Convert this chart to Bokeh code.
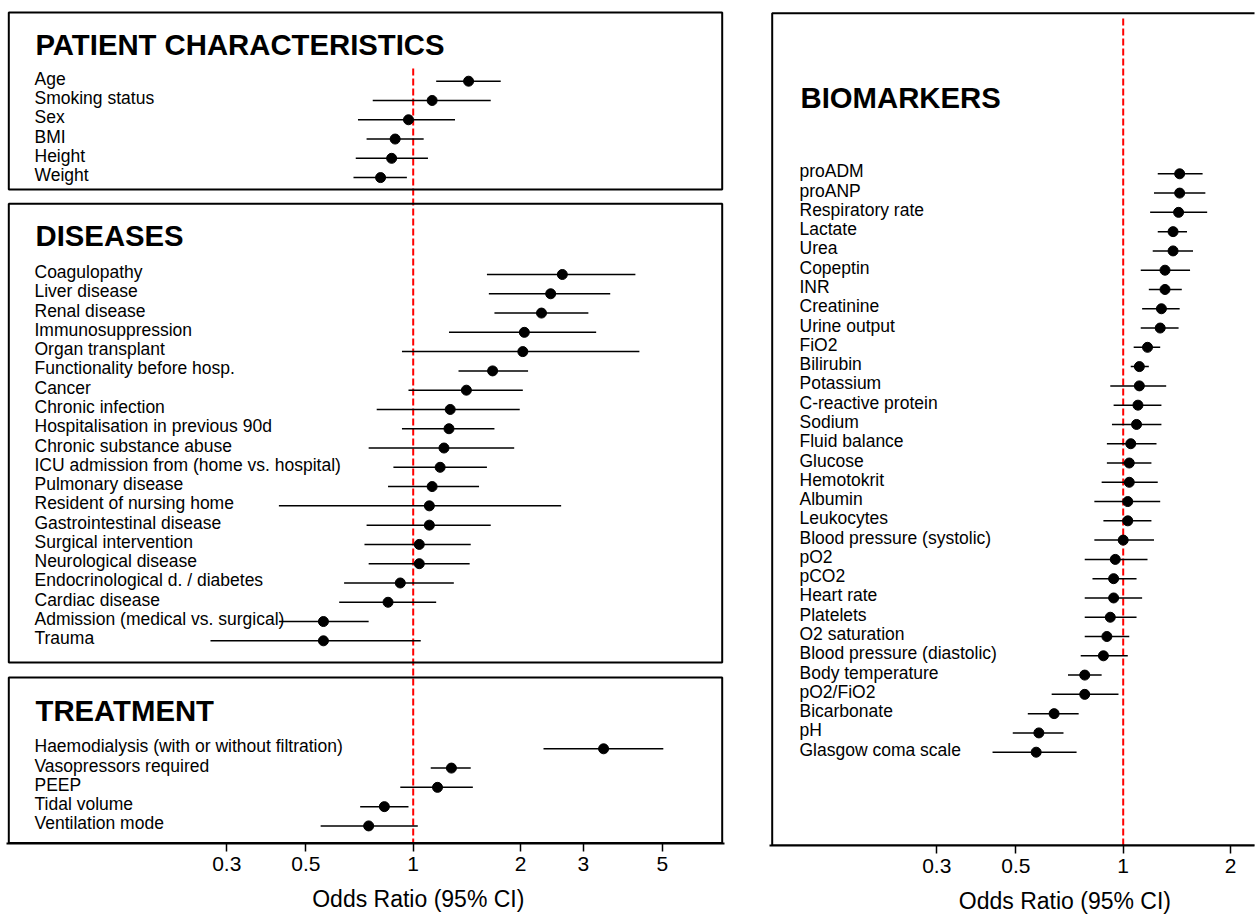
from bokeh.plotting import figure
from bokeh.models import Range1d, FixedTicker, NumeralTickFormatter, Title
from bokeh.layouts import row
from bokeh.embed import file_html
from bokeh.resources import INLINE
from bokeh.core.properties import value

# ---------------- data ----------------
patient_title = "PATIENT CHARACTERISTICS"
patient_labels = ["Age", "Smoking status", "Sex", "BMI", "Height", "Weight"]
patient_or = [1.43, 1.13, 0.97, 0.89, 0.87, 0.81]
patient_lo = [1.16, 0.77, 0.70, 0.74, 0.69, 0.68]
patient_hi = [1.76, 1.65, 1.31, 1.07, 1.10, 0.96]

disease_title = "DISEASES"
disease_labels = ["Coagulopathy", "Liver disease", "Renal disease", "Immunosuppression",
                  "Organ transplant", "Functionality before hosp.", "Cancer", "Chronic infection",
                  "Hospitalisation in previous 90d", "Chronic substance abuse",
                  "ICU admission from (home vs. hospital)", "Pulmonary disease",
                  "Resident of nursing home", "Gastrointestinal disease", "Surgical intervention",
                  "Neurological disease", "Endocrinological d. / diabetes", "Cardiac disease",
                  "Admission (medical vs. surgical)", "Trauma"]
disease_or = [2.62, 2.43, 2.29, 2.05, 2.03, 1.67, 1.41, 1.27, 1.26, 1.22,
              1.19, 1.13, 1.11, 1.11, 1.04, 1.04, 0.92, 0.85, 0.56, 0.56]
disease_lo = [1.61, 1.63, 1.69, 1.26, 0.93, 1.34, 0.97, 0.79, 0.93, 0.75,
              0.88, 0.85, 0.42, 0.74, 0.73, 0.75, 0.64, 0.62, 0.42, 0.27]
disease_hi = [4.20, 3.57, 3.10, 3.26, 4.31, 2.10, 2.03, 1.99, 1.69, 1.92,
              1.61, 1.53, 2.60, 1.65, 1.45, 1.44, 1.30, 1.16, 0.75, 1.05]

treatment_title = "TREATMENT"
treatment_labels = ["Haemodialysis (with or without filtration)", "Vasopressors required",
                    "PEEP", "Tidal volume", "Ventilation mode"]
treatment_or = [3.42, 1.28, 1.17, 0.83, 0.75]
treatment_lo = [2.32, 1.12, 0.92, 0.71, 0.55]
treatment_hi = [5.03, 1.45, 1.47, 0.97, 1.03]

bio_title = "BIOMARKERS"
bio_labels = ["proADM", "proANP", "Respiratory rate", "Lactate", "Urea", "Copeptin", "INR",
              "Creatinine", "Urine output", "FiO2", "Bilirubin", "Potassium",
              "C-reactive protein", "Sodium", "Fluid balance", "Glucose", "Hemotokrit",
              "Albumin", "Leukocytes", "Blood pressure (systolic)", "pO2", "pCO2",
              "Heart rate", "Platelets", "O2 saturation", "Blood pressure (diastolic)",
              "Body temperature", "pO2/FiO2", "Bicarbonate", "pH", "Glasgow coma scale"]
bio_or = [1.44, 1.44, 1.43, 1.38, 1.38, 1.31, 1.31, 1.28, 1.27, 1.17, 1.11, 1.11,
          1.10, 1.09, 1.05, 1.04, 1.04, 1.03, 1.03, 1.00, 0.95, 0.94,
          0.94, 0.92, 0.90, 0.88, 0.78, 0.78, 0.64, 0.58, 0.57]
bio_lo = [1.25, 1.22, 1.19, 1.25, 1.21, 1.12, 1.18, 1.13, 1.12, 1.07, 1.05, 0.92,
          0.94, 0.93, 0.90, 0.90, 0.87, 0.83, 0.88, 0.83, 0.78, 0.82,
          0.78, 0.78, 0.78, 0.76, 0.70, 0.63, 0.54, 0.49, 0.43]
bio_hi = [1.67, 1.70, 1.72, 1.51, 1.57, 1.54, 1.46, 1.44, 1.43, 1.27, 1.18, 1.32,
          1.28, 1.28, 1.24, 1.20, 1.25, 1.27, 1.20, 1.22, 1.17, 1.09,
          1.13, 1.09, 1.04, 1.03, 0.87, 0.97, 0.75, 0.68, 0.74]

left_ticks = [0.3, 0.5, 1, 2, 3, 5]
right_ticks = [0.3, 0.5, 1, 2]
ref_or = 1
x_title = "Odds Ratio (95% CI)"

# ---------------- styling / layout ----------------
FONT = "Liberation Sans"
PX_DEC = 356.5       # pixels per decade on the log axis
ROW = 19.28          # row spacing in px
LABEL_SIZE = "17.5px"
TITLE_SIZE = "29.3px"


def make_fig(frame_left, frame_right, frame_top, frame_bottom, one_px, ticks,
             border_right, title_offset, start_x):
    lo = 10 ** (-(one_px - frame_left) / PX_DEC)
    hi = 10 ** ((frame_right - one_px) / PX_DEC)
    p = figure(frame_width=frame_right - frame_left, frame_height=frame_bottom - frame_top,
               x_axis_type="log", x_range=Range1d(lo, hi),
               y_range=Range1d(frame_bottom, frame_top),
               y_axis_location=None, output_backend="svg", toolbar_location=None,
               min_border_left=frame_left - start_x, min_border_right=border_right,
               min_border_top=frame_top, min_border_bottom=0,
               background_fill_color="white", border_fill_color="white")
    p.outline_line_color = None
    p.grid.visible = False
    ax = p.xaxis[0]
    ax.ticker = FixedTicker(ticks=ticks, minor_ticks=[])
    ax.formatter = NumeralTickFormatter(format="0.[0]")
    ax.axis_line_width = 2
    ax.axis_line_color = "black"
    ax.major_tick_out = 8
    ax.major_tick_in = 0
    ax.major_tick_line_width = 1.5
    ax.major_tick_line_color = "black"
    ax.minor_tick_line_color = None
    ax.major_label_text_font = FONT
    ax.major_label_text_font_size = "21px"
    ax.major_label_text_color = "black"
    ax.major_label_standoff = 5
    t = Title(text=x_title, align="left", offset=title_offset, text_font=FONT,
              text_font_size="23px", text_font_style="normal", text_color="black",
              standoff=21)
    p.add_layout(t, "below")

    def px2x(px):
        return lo * 10 ** ((px - frame_left) / PX_DEC)

    return p, px2x, lo, hi


def draw_section(p, px2x, title, title_mid, labels, ors, los, his, first_row, label_px):
    n = len(labels)
    ys = [first_row + i * ROW for i in range(n)]
    p.segment(x0=los, x1=his, y0=ys, y1=ys, line_color="black", line_width=1.5)
    p.scatter(x=ors, y=ys, size=10, fill_color="black", line_color="black")
    p.text(x=[px2x(label_px)] * n, y=[y - 2.5 for y in ys], text=labels,
           text_font=value(FONT), text_font_size=LABEL_SIZE, text_color="black",
           text_align="left", text_baseline="middle")
    p.text(x=[px2x(label_px + 1)], y=[title_mid], text=[title],
           text_font=value(FONT), text_font_size=TITLE_SIZE, text_font_style="bold",
           text_color="black", text_align="left", text_baseline="middle")


# ---------------- left panel ----------------
pl, lx, llo, lhi = make_fig(6, 724, 10, 843, 412.7, left_ticks, 44, 305.7, 0)
pl.segment(x0=[ref_or], x1=[ref_or], y0=[68], y1=[843], line_color="red",
           line_width=2, line_dash="7 3")
pl.quad(left=[lx(8.3)] * 3, right=[lx(721.7)] * 3, top=[12, 203.3, 677],
        bottom=[189, 662, 842.5], fill_color=None, line_color="black", line_width=2)
draw_section(pl, lx, patient_title, 43.7, patient_labels, patient_or, patient_lo, patient_hi, 80.7, 34)
draw_section(pl, lx, disease_title, 235.3, disease_labels, disease_or, disease_lo, disease_hi, 274, 34)
draw_section(pl, lx, treatment_title, 710, treatment_labels, treatment_or, treatment_lo, treatment_hi, 748.3, 34)

# ---------------- right panel ----------------
pr, rx, rlo, rhi = make_fig(769, 1254, 10, 845, 1122.7, right_ticks, 1, 189.3, 768)
pr.segment(x0=[ref_or], x1=[ref_or], y0=[18], y1=[845], line_color="red",
           line_width=2, line_dash="7 3")
pr.quad(left=[rx(771.7)], right=[rhi * 3], top=[12.7], bottom=[845],
        fill_color=None, line_color="black", line_width=2)
draw_section(pr, rx, bio_title, 96.7, bio_labels, bio_or, bio_lo, bio_hi, 173.3, 799)

layout = row(pl, pr)
open("out.html", "w").write(file_html(layout, INLINE))
